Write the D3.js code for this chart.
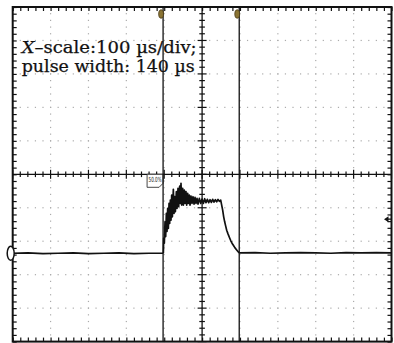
<!DOCTYPE html>
<html>
<head>
  <meta charset="utf-8">
  <title>Pulse trace</title>
  <script src="https://d3js.org/d3.v7.min.js"></script>
  <style>
    body { margin: 0; background: #fff; }
  </style>
</head>
<body>
  <div id="scope"></div>
  <script>

    // trace values, time in us (100 us/div), level in divisions from the centre line
    var baseBefore = [[-500, -2.36], [-460, -2.35], [-420, -2.37], [-380, -2.36], [-340, -2.35],
      [-300, -2.37], [-260, -2.36], [-220, -2.35], [-180, -2.37], [-140, -2.36], [-103, -2.36]];

    var pulse = [[-102.3, -2.36], [-101.4, -1.91], [-99.7, -2.06], [-97.9, -1.42], [-96.1, -1.86],
      [-94.4, -1.17], [-92.6, -1.71], [-90.9, -1.02], [-89.1, -1.62], [-87.3, -0.87], [-85.6, -1.47],
      [-83.8, -0.77], [-82.1, -1.37], [-80.3, -0.62], [-78.5, -1.27], [-75.9, -0.45], [-74.1, -1.17],
      [-72.4, -0.67], [-70.6, -1.12], [-68.0, -0.52], [-66.2, -1.02], [-63.6, -0.42], [-61.8, -0.97],
      [-59.2, -0.35], [-57.4, -0.87], [-55.7, -0.27], [-53.9, -0.92], [-51.3, -0.42], [-49.5, -0.92],
      [-46.9, -0.47], [-45.1, -0.87], [-42.5, -0.52], [-40.7, -0.92], [-38.1, -0.57], [-36.3, -0.87],
      [-33.7, -0.62], [-31.9, -0.92], [-29.3, -0.65], [-26.6, -0.87], [-24.0, -0.67], [-21.3, -0.89],
      [-18.7, -0.69], [-16.1, -0.87], [-13.4, -0.72], [-10.8, -0.89], [-7.3, -0.72], [-3.7, -0.87],
      [-0.2, -0.74], [3.3, -0.87], [6.8, -0.73], [10.3, -0.85], [13.9, -0.75], [17.4, -0.85],
      [20.9, -0.76], [24.4, -0.84], [27.9, -0.75], [31.5, -0.83], [35.0, -0.76], [38.5, -0.82],
      [42.0, -0.75], [45.5, -0.81], [49.1, -0.77], [51.7, -0.92], [54.3, -1.07], [57.0, -1.27],
      [59.6, -1.42], [62.3, -1.55], [64.9, -1.67], [68.4, -1.78], [71.9, -1.88], [75.5, -1.98],
      [79.0, -2.06], [82.5, -2.12], [86.9, -2.20], [91.3, -2.26], [95.7, -2.32], [98.3, -2.35]];

    var baseAfter = [[98.3, -2.35], [140, -2.34], [180, -2.36], [220, -2.35], [260, -2.34],
      [300, -2.35], [340, -2.36], [380, -2.34], [420, -2.35], [460, -2.34], [500, -2.35]];

    var cursorTimes = [-103, 98];
    var triggerLevel = -1.34;
    var groundLevel = -2.36;
    var refLabel = "50.0%";
    var noteLines = ["scale:100 \u00b5s/div;", "pulse width: 140 \u00b5s"];

    // set the dimensions and margins of the screen area
    var W = 394, H = 343;
    var margin = { top: 7, right: 2.5, bottom: 1.4, left: 12.7 },
      width = W - margin.left - margin.right,
      height = H - margin.top - margin.bottom;

    var svg = d3.select("#scope")
      .append("svg")
      .attr("width", W)
      .attr("height", H);

    var g = svg.append("g")
      .attr("transform", "translate(" + margin.left + "," + margin.top + ")");

    var x = d3.scaleLinear().domain([-500, 500]).range([0, width]);
    var y = d3.scaleLinear().domain([-5, 5]).range([height, 0]);

    var xMajor = d3.range(-400, 401, 100).filter(function (d) { return d !== 0; });
    var yMajor = d3.range(-4, 5, 1).filter(function (d) { return d !== 0; });
    var xMinor = d3.range(-500, 501, 20);
    var yMinor = d3.range(-50, 51, 2).map(function (d) { return d / 10; });

    // dotted graticule
    xMajor.forEach(function (t) {
      g.append("g").selectAll("rect")
        .data(yMinor)
        .enter()
        .append("rect")
        .attr("x", x(t) - 0.6)
        .attr("y", function (d) { return y(d) - 0.6; })
        .attr("width", 1.2).attr("height", 1.2)
        .attr("fill", "#ababab");
    });
    yMajor.forEach(function (v) {
      g.append("g").selectAll("rect")
        .data(xMinor)
        .enter()
        .append("rect")
        .attr("x", function (d) { return x(d) - 0.6; })
        .attr("y", y(v) - 0.6)
        .attr("width", 1.2).attr("height", 1.2)
        .attr("fill", "#ababab");
    });

    // centre lines with ticks
    g.append("line").attr("x1", 0).attr("x2", width).attr("y1", y(0)).attr("y2", y(0))
      .attr("stroke", "#111").attr("stroke-width", 1.3);
    g.append("line").attr("x1", x(0)).attr("x2", x(0)).attr("y1", 0).attr("y2", height)
      .attr("stroke", "#111").attr("stroke-width", 1.3);

    g.append("g").selectAll("line")
      .data(xMinor)
      .enter()
      .append("line")
      .attr("x1", function (d) { return x(d); })
      .attr("x2", function (d) { return x(d); })
      .attr("y1", function (d) { return y(0) - (d % 100 === 0 ? 4.5 : 2.8); })
      .attr("y2", function (d) { return y(0) + (d % 100 === 0 ? 4.5 : 2.8); })
      .attr("stroke", "#111").attr("stroke-width", 1.2);

    g.append("g").selectAll("line")
      .data(yMinor)
      .enter()
      .append("line")
      .attr("y1", function (d) { return y(d); })
      .attr("y2", function (d) { return y(d); })
      .attr("x1", function (d) { return x(0) - (Math.abs(d % 1) < 1e-6 ? 4.5 : 2.8); })
      .attr("x2", function (d) { return x(0) + (Math.abs(d % 1) < 1e-6 ? 4.5 : 2.8); })
      .attr("stroke", "#111").attr("stroke-width", 1.2);

    // border ticks, pointing inwards
    g.append("g").call(d3.axisTop(x).tickValues(xMinor).tickSize(-4).tickFormat(""));
    g.append("g").attr("transform", "translate(0," + height + ")")
      .call(d3.axisBottom(x).tickValues(xMinor).tickSize(-4).tickFormat(""));
    g.append("g").call(d3.axisLeft(y).tickValues(yMinor).tickSize(-4).tickFormat(""));
    g.append("g").attr("transform", "translate(" + width + ",0)")
      .call(d3.axisRight(y).tickValues(yMinor).tickSize(-4).tickFormat(""));
    g.selectAll(".domain").remove();
    g.selectAll(".tick line").attr("stroke", "#111").attr("stroke-width", 1.2);

    g.append("rect")
      .attr("x", 0).attr("y", 0)
      .attr("width", width).attr("height", height)
      .attr("fill", "none").attr("stroke", "#111").attr("stroke-width", 2);

    // annotation text
    var note = g.append("text")
      .attr("x", 9).attr("y", 46)
      .style("font-family", "'DejaVu Serif', serif")
      .style("font-size", "17px")
      .attr("textLength", 175).attr("lengthAdjust", "spacingAndGlyphs")
      .attr("fill", "#111").attr("stroke", "#111").attr("stroke-width", 0.25);
    note.append("tspan").style("font-style", "italic").text("X");
    note.append("tspan").text("\u2013" + noteLines[0]);
    g.append("text")
      .attr("x", 9).attr("y", 65)
      .style("font-family", "'DejaVu Serif', serif")
      .style("font-size", "17px")
      .attr("textLength", 173).attr("lengthAdjust", "spacingAndGlyphs")
      .attr("fill", "#111").attr("stroke", "#111").attr("stroke-width", 0.25)
      .text(noteLines[1]);

    // reference level label box
    var bx = x(cursorTimes[0]) - 16, by = y(0);
    g.append("path")
      .attr("d", "M" + bx + "," + by + "h16v9l-4,4h-12z")
      .attr("fill", "#fff").attr("stroke", "#333").attr("stroke-width", 0.9);
    g.append("text")
      .attr("x", bx + 1.5).attr("y", by + 8)
      .style("font-family", "'DejaVu Sans', sans-serif")
      .style("font-size", "7px")
      .attr("textLength", 13).attr("lengthAdjust", "spacingAndGlyphs")
      .attr("fill", "#222")
      .text(refLabel);

    // cursors
    g.append("g").selectAll("line")
      .data(cursorTimes)
      .enter()
      .append("line")
      .attr("x1", function (d) { return x(d); })
      .attr("x2", function (d) { return x(d); })
      .attr("y1", 0).attr("y2", height)
      .attr("stroke", "#111").attr("stroke-width", 1.3);
    g.append("g").selectAll("ellipse")
      .data(cursorTimes)
      .enter()
      .append("ellipse")
      .attr("cx", function (d) { return x(d) - 2; })
      .attr("cy", 7)
      .attr("rx", 2.4).attr("ry", 4.2)
      .attr("fill", "#8a7434").attr("stroke", "#4a3a14").attr("stroke-width", 0.8);

    // trace
    var line = d3.line()
      .x(function (d) { return x(d[0]); })
      .y(function (d) { return y(d[1]); });
    [baseBefore, pulse, baseAfter].forEach(function (seg) {
      g.append("path")
        .attr("d", line(seg))
        .attr("fill", "none")
        .attr("stroke", "#111")
        .attr("stroke-width", 1.7)
        .attr("stroke-linejoin", "round");
    });

    // ground marker on the left edge
    g.append("ellipse")
      .attr("cx", -2).attr("cy", y(groundLevel))
      .attr("rx", 3.5).attr("ry", 7)
      .attr("fill", "#fff").attr("stroke", "#111").attr("stroke-width", 1.5);

    // trigger level arrow on the right edge
    var ty = y(triggerLevel);
    g.append("path")
      .attr("d", "M" + (width - 7.5) + "," + ty + "l4.5,-3v6z")
      .attr("fill", "#111");
    g.append("line")
      .attr("x1", width - 4).attr("x2", width).attr("y1", ty).attr("y2", ty)
      .attr("stroke", "#111").attr("stroke-width", 1.3);

  </script>
</body>
</html>
